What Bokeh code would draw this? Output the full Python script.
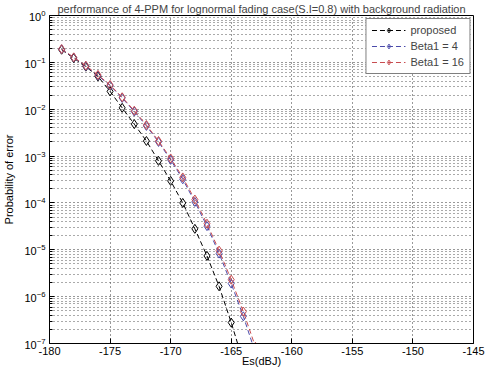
from bokeh.plotting import figure
from bokeh.models import FixedTicker, Legend, LegendItem
from bokeh.embed import file_html
from bokeh.resources import INLINE

# ---- data ----
es_proposed = [-179, -178, -177, -176, -175, -174, -173, -172, -171, -170,
               -169, -168, -167, -166, -165, -164]
pe_proposed = [1.86e-1, 1.23e-1, 8.1e-2, 5.0e-2, 2.4e-2, 1.07e-2, 4.8e-3, 2.1e-3,
               7.9e-4, 2.95e-4, 1.0e-4, 2.8e-5, 7.4e-6, 1.66e-6, 2.8e-7, 4.0e-8]

es_beta = [-179, -178, -177, -176, -175, -174, -173, -172, -171, -170,
           -169, -168, -167, -166, -165, -164, -163]
pe_beta4 = [1.9e-1, 1.26e-1, 8.3e-2, 5.2e-2, 3.2e-2, 1.74e-2, 8.9e-3, 4.4e-3,
            2.0e-3, 8.3e-4, 3.2e-4, 1.05e-4, 3.2e-5, 8.3e-6, 1.9e-6, 3.8e-7, 6.3e-8]
pe_beta16 = [1.92e-1, 1.28e-1, 8.5e-2, 5.4e-2, 3.3e-2, 1.8e-2, 9.3e-3, 4.6e-3,
             2.1e-3, 8.9e-4, 3.5e-4, 1.18e-4, 3.6e-5, 9.6e-6, 2.3e-6, 4.8e-7, 8.5e-8]

x_ticks = [-180, -175, -170, -165, -160, -155, -150, -145]
x_tick_labels = ["-180", "-175", "-170", "-165", "-160", "-155", "-150", "-145"]
y_ticks = [1e-7, 1e-6, 1e-5, 1e-4, 1e-3, 1e-2, 1e-1, 1e0]
y_minor = [m * d for d in [1e-7, 1e-6, 1e-5, 1e-4, 1e-3, 1e-2, 1e-1]
           for m in [2, 3, 4, 5, 6, 7, 8, 9]]

title_text = "performance of 4-PPM for lognormal fading case(S.I=0.8) with background radiation"
labels = ["proposed", "Beta1 = 4", "Beta1 = 16"]
colors = ["#000000", "#4a4aaa", "#c84c50"]

FONT = "Liberation Sans"

p = figure(width=487, height=369, x_range=(-180, -145), y_range=(1e-7, 1),
           y_axis_type="log", output_backend="svg", toolbar_location=None,
           min_border_left=46, min_border_right=14, min_border_top=0,
           min_border_bottom=10, title=title_text)

p.title.text_font = FONT
p.title.text_font_size = "11px"
p.title.text_font_style = "normal"
p.title.align = "center"
p.title.standoff = 1
p.title.offset = 0

p.outline_line_color = "black"
p.outline_line_width = 1
p.background_fill_color = "white"
p.border_fill_color = "white"

# axes
p.xaxis.ticker = FixedTicker(ticks=x_ticks)
p.xaxis.major_label_overrides = dict(zip(x_ticks, x_tick_labels))
p.yaxis.ticker = FixedTicker(ticks=y_ticks, minor_ticks=y_minor)
for ax in (p.xaxis, p.yaxis):
    ax.axis_line_color = "black"
    ax.major_tick_in = 5
    ax.major_tick_out = 0
    ax.major_tick_line_color = "black"
    ax.major_label_text_font = FONT
    ax.major_label_text_font_size = "11px"
    ax.major_label_text_color = "black"
    ax.axis_label_text_font = FONT
    ax.axis_label_text_font_size = "11px"
    ax.axis_label_text_font_style = "normal"
    ax.axis_label_text_color = "black"
p.xaxis.minor_tick_line_color = None
p.yaxis.minor_tick_in = 3
p.yaxis.minor_tick_out = 0
p.yaxis.minor_tick_line_color = "black"
p.xaxis.major_label_standoff = 3
p.yaxis.major_label_standoff = 4
p.xaxis.axis_label = "Es(dBJ)"
p.yaxis.axis_label = "Probability of error"
p.xaxis.axis_label_standoff = -3
p.yaxis.axis_label_standoff = 6

# grid (MATLAB style dotted)
p.xgrid.ticker = FixedTicker(ticks=x_ticks)
p.ygrid.ticker = FixedTicker(ticks=y_ticks, minor_ticks=y_minor)
p.xgrid.grid_line_color = "#333333"
p.xgrid.grid_line_dash = "1 3"
p.ygrid.grid_line_color = "#333333"
p.ygrid.grid_line_dash = "1 3"
p.ygrid.minor_grid_line_color = "#555555"
p.ygrid.minor_grid_line_dash = "1 3"

items = []
for es, pe, lab, col in [(es_proposed, pe_proposed, labels[0], colors[0]),
                          (es_beta, pe_beta4, labels[1], colors[1]),
                          (es_beta, pe_beta16, labels[2], colors[2])]:
    r1 = p.line(es, pe, line_color=col, line_width=1, line_dash="5 3")
    r2 = p.scatter(es, pe, marker="diamond", size=9, line_color=col,
                   line_width=1, fill_alpha=0)
    items.append(LegendItem(label=lab, renderers=[r1, r2]))

legend = Legend(items=items, location="top_right")
legend.label_text_font = FONT
legend.label_text_font_size = "11px"
legend.border_line_color = "black"
legend.border_line_width = 1
legend.background_fill_color = "white"
legend.background_fill_alpha = 1
legend.glyph_width = 34
legend.glyph_height = 12
legend.label_height = 12
legend.spacing = 4
legend.padding = 5
legend.margin = 3
legend.label_standoff = 5
p.add_layout(legend)

open("out.html", "w").write(file_html(p, INLINE))
